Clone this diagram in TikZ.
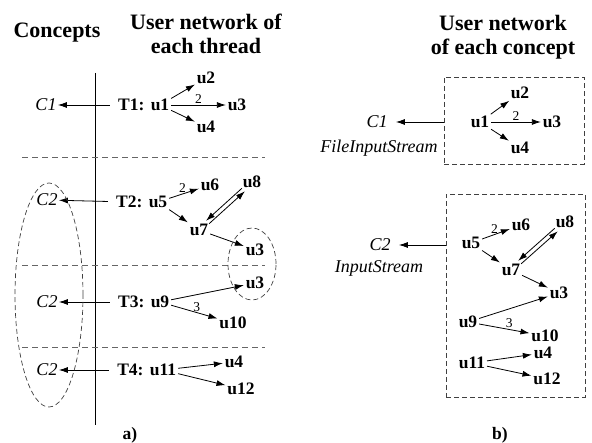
\documentclass[tikz,border=0pt]{standalone}
\usepackage{fontspec}
\setmainfont{Liberation Serif}
\usetikzlibrary{arrows.meta,positioning}

\begin{document}
\begin{tikzpicture}[x=1pt,y=-1pt,>={Latex[length=9pt,width=6pt]},line width=0.8pt,
    user/.style={font=\fontsize{17.5}{20}\selectfont\bfseries,inner sep=1.5pt},
    thread/.style={font=\fontsize{17.5}{20}\selectfont\bfseries,inner sep=1pt},
    concept/.style={font=\fontsize{18}{21}\selectfont\itshape,inner sep=1pt},
    title/.style={font=\fontsize{22}{24}\selectfont\bfseries,align=center},
    weight/.style={font=\fontsize{13.5}{15}\selectfont,inner sep=1pt},
    sep/.style={dash pattern=on 6pt off 4pt,draw=black!60},
    group/.style={dash pattern=on 5pt off 3pt,draw=black!75,line width=0.7pt}]

    \useasboundingbox (0,0) rectangle (592,443);

    % headings
    \node[title] (tc) at (57,33) {Concepts};
    \node[title] (tn) at (206,34) {User network of\\each thread};
    \node[title] (tb) at (503,37) {User network\\of each concept};

    % a) threads split by dashed rules
    \draw (95,73) -- (95,425);
    \draw[sep] (22,157) -- (265,157);
    \draw[sep] (22,265) -- (265,265);
    \draw[sep] (22,347) -- (265,347);

    \node[user] (au1) at (160,105) {u1};
    \node[user] (au2) at (206,78) {u2};
    \node[user] (au3) at (237,105) {u3};
    \node[user] (au4) at (206,127) {u4};
    \node[thread] (t1) [left=3pt of au1] {T1:};
    \node[concept] (ac1) at (46,105) {C1};

    \node[user] (au5) at (158,202) {u5};
    \node[user] (au6) at (210,185) {u6};
    \node[user] (au8) at (252,182) {u8};
    \node[user] (au7) at (199,230) {u7};
    \node[user] (au3a) at (255,250) {u3};
    \node[user] (au3b) at (255,283) {u3};
    \node[thread] (t2) [left=3pt of au5] {T2:};
    \node[concept] (ac2) at (47,200) {C2};

    \node[user] (au9) at (160,302) {u9};
    \node[user] (au10) at (233,323) {u10};
    \node[thread] (t3) [left=3pt of au9] {T3:};
    \node[concept] (ac3) at (47,302) {C2};

    \node[user] (au11) at (163,370) {u11};
    \node[user] (au4b) at (234,362) {u4};
    \node[user] (au12) at (241,389) {u12};
    \node[thread] (t4) [left=3pt of au11] {T4:};
    \node[concept] (ac4) at (47,370) {C2};

    \draw[->,shorten <=7pt] (t1) -- (ac1);
    \draw[->,shorten <=7pt] (t2) -- (ac2);
    \draw[->,shorten <=7pt] (t3) -- (ac3);
    \draw[->,shorten <=7pt] (t4) -- (ac4);

    \draw[->] (au1) -- (au2);
    \draw[->] (au1) -- node[weight,above] {2} (au3);
    \draw[->] (au1) -- (au4);
    \draw[->] (au5) -- node[weight,above,pos=0.45] {2} (au6);
    \draw[->] (au5) -- (au7);
    \draw[->,transform canvas={xshift=-1.5pt,yshift=1.5pt}] (au8) -- (au7);
    \draw[->,transform canvas={xshift=1.5pt,yshift=-1.5pt}] (au7) -- (au8);
    \draw[->] (au7) -- (au3a);
    \draw[->] (au9) -- (au3b);
    \draw[->] (au9) -- node[weight,above,pos=0.55] {3} (au10);
    \draw[->] (au11) -- (au4b);
    \draw[->] (au11) -- (au12);

    % same concept grouped
    \draw[group] (252,264) ellipse [x radius=24pt,y radius=36pt];
    \draw[group] (49,295) ellipse [x radius=34pt,y radius=112pt];

    \node[user] (la) at (130,435) {a)};

    % b) one network per concept
    \node[group,draw,minimum width=140pt,minimum height=87pt] (box1) at (514,120.5) {};
    \node[group,draw,minimum width=139pt,minimum height=203pt] (box2) at (515.5,295.5) {};

    \node[concept] (bc1) at (377,122) {C1};
    \node[concept] (bf1) at (379,148) {FileInputStream};
    \node[concept] (bc2) at (380,245) {C2};
    \node[concept] (bf2) at (379,268) {InputStream};
    \draw[->,shorten >=7pt] (box1.west |- bc1) -- (bc1);
    \draw[->,shorten >=7pt] (box2.west |- bc2) -- (bc2);

    \node[user] (bu1) at (480,122) {u1};
    \node[user] (bu2) at (520,93) {u2};
    \node[user] (bu3) at (552,122) {u3};
    \node[user] (bu4) at (520,148) {u4};

    \node[user] (bu5) at (471,243) {u5};
    \node[user] (bu6) at (521,225) {u6};
    \node[user] (bu8) at (565,222) {u8};
    \node[user] (bu7) at (511,270) {u7};
    \node[user] (bu3b) at (559,293) {u3};
    \node[user] (bu9) at (468,322) {u9};
    \node[user] (bu10) at (545,336) {u10};
    \node[user] (bu11) at (472,363) {u11};
    \node[user] (bu4b) at (543,353) {u4};
    \node[user] (bu12) at (547,379) {u12};

    \draw[->] (bu1) -- (bu2);
    \draw[->] (bu1) -- node[weight,above] {2} (bu3);
    \draw[->] (bu1) -- (bu4);
    \draw[->] (bu5) -- node[weight,above,pos=0.45] {2} (bu6);
    \draw[->] (bu5) -- (bu7);
    \draw[->,transform canvas={xshift=-1.5pt,yshift=1.5pt}] (bu8) -- (bu7);
    \draw[->,transform canvas={xshift=1.5pt,yshift=-1.5pt}] (bu7) -- (bu8);
    \draw[->] (bu7) -- (bu3b);
    \draw[->] (bu9) -- (bu3b);
    \draw[->] (bu9) -- node[weight,above,pos=0.6] {3} (bu10);
    \draw[->] (bu11) -- (bu4b);
    \draw[->] (bu11) -- (bu12);

    \node[user] (lb) at (500,435) {b)};
\end{tikzpicture}
\end{document}
